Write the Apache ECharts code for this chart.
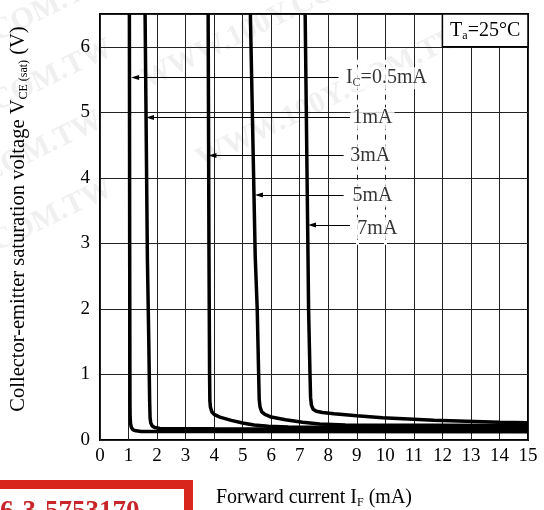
<!DOCTYPE html>
<html>
<head>
<meta charset="utf-8">
<script src="https://cdn.jsdelivr.net/npm/echarts@6/dist/echarts.min.js"></script>
<style>
html, body { margin: 0; padding: 0; background: #fff; }
#chart { width: 544px; height: 510px; }
</style>
</head>
<body>
<div id="chart"></div>
<script>
const FONT = '"Liberation Serif", "Times New Roman", serif';

// V_CE(sat) versus forward current I_F, one curve per collector current.
// Each point: [I_F (mA), V_CE(sat) (V)]
const curveIc05 = [[1.03, 6.5], [1.04, 3.0], [1.05, 0.6], [1.055, 0.36], [1.07, 0.25], [1.1, 0.19], [1.16, 0.155], [1.26, 0.14], [1.45, 0.13], [4, 0.13], [15, 0.125]];
const curveIc1 = [[1.58, 6.5], [1.66, 2.8], [1.71, 1.5], [1.74, 0.6], [1.755, 0.34], [1.78, 0.26], [1.83, 0.215], [1.92, 0.19], [2.1, 0.175], [4, 0.17], [15, 0.16]];
const curveIc3 = [[3.79, 6.5], [3.82, 2.8], [3.84, 1.0], [3.85, 0.6], [3.87, 0.5], [3.92, 0.43], [4.0, 0.39], [4.2, 0.35], [4.6, 0.3], [5.0, 0.26], [5.4, 0.23], [5.9, 0.21], [6.6, 0.2], [15, 0.19]];
const curveIc5 = [[5.27, 6.5], [5.44, 2.8], [5.51, 2.0], [5.56, 1.0], [5.58, 0.62], [5.61, 0.5], [5.67, 0.43], [5.78, 0.39], [6.0, 0.35], [6.5, 0.31], [7.1, 0.27], [7.7, 0.245], [8.6, 0.23], [15, 0.22]];
const curveIc7 = [[7.19, 6.5], [7.29, 2.8], [7.31, 2.0], [7.36, 1.0], [7.38, 0.65], [7.41, 0.53], [7.47, 0.47], [7.58, 0.44], [7.8, 0.42], [8.2, 0.4], [9.0, 0.37], [9.9, 0.34], [11.7, 0.3], [14.0, 0.27], [15, 0.265]];

// Curve captions and their leader arrows (axis units)
const captionText = ['I{sub|C}=0.5mA', '1mA', '3mA', '5mA', '7mA'];
const captionIF = [8.55, 8.78, 8.7, 8.78, 8.95];
const captionV = [5.52, 4.91, 4.33, 3.72, 3.23];
const arrowTipIF = [1.23, 1.75, 3.94, 5.57, 7.43];
const arrowTailIF = [8.36, 8.76, 8.54, 8.54, 8.76];
const arrowV = [5.53, 4.92, 4.34, 3.74, 3.28];

// Ambient temperature box (axis units)
const tempBoxIF = [12, 15];
const tempBoxV = [6, 6.5];
const tempText = 'T{sub|a}=25°C';

// Dashed guide columns behind the captions
const guideIF = [9, 10];
const guideV = [2.98, 5.85];

// Faint site stamp text repeated across the upper half
const stampText = 'WWW.100Y.COM.TW';
const stampAnchors = [[-150, 120], [-150, 190], [-160, 262], [-150, 330], [150, 95], [205, 175]];

const subRich = { sub: { fontFamily: FONT, fontSize: 12, verticalAlign: 'bottom', color: '#000' } };

const curves = [curveIc05, curveIc1, curveIc3, curveIc5, curveIc7];

const series = curves.map(c => ({
  type: 'line',
  data: c,
  showSymbol: false,
  symbol: 'none',
  smooth: false,
  clip: true,
  lineStyle: { color: '#000', width: 3.5 },
  z: 3
}));

series.push({
  type: 'line',
  data: [],
  z: 2,
  markLine: {
    silent: true,
    symbol: ['none', 'none'],
    label: { show: false },
    lineStyle: { color: '#fff', width: 3, type: [5, 5] },
    data: guideIF.map(x => [{ coord: [x, guideV[0]] }, { coord: [x, guideV[1]] }])
  },
  markArea: {
    silent: true,
    itemStyle: { color: '#fff', borderColor: '#000', borderWidth: 1.5 },
    label: {
      show: true,
      position: 'inside',
      formatter: tempText,
      fontFamily: FONT,
      fontSize: 20,
      lineHeight: 22,
      color: '#000',
      rich: subRich
    },
    data: [[{ coord: [tempBoxIF[0], tempBoxV[0]] }, { coord: [tempBoxIF[1], tempBoxV[1]] }]]
  }
});

series.push({
  type: 'scatter',
  data: captionText.map((t, i) => [captionIF[i], captionV[i], t]),
  symbolSize: 0,
  z: 6,
  label: {
    show: true,
    position: 'right',
    distance: 0,
    formatter: p => p.data[2],
    fontFamily: FONT,
    fontSize: 20,
    lineHeight: 22,
    color: '#000',
    backgroundColor: '#fff',
    padding: [0, 2, 0, 2],
    rich: subRich
  },
  markLine: {
    silent: true,
    symbol: ['none', 'none'],
    label: { show: false },
    lineStyle: { color: '#000', width: 1, type: 'solid' },
    data: arrowTipIF.map((tip, i) => [
      { coord: [tip, arrowV[i]], symbol: 'triangle', symbolSize: [5, 8] },
      { coord: [arrowTailIF[i], arrowV[i]], symbol: 'none' }
    ])
  }
});

const stampGraphics = stampAnchors.map(([x, y]) => ({
  type: 'text', silent: true, z: -10,
  x: x, y: y, rotation: 0.45,
  style: { text: stampText, fill: '#f0f0f0', font: 'bold 30px "Liberation Serif", serif',
    align: 'left', verticalAlign: 'bottom' }
}));

const chart = echarts.init(document.getElementById('chart'), null, { renderer: 'canvas' });
chart.setOption({
  animation: false,
  backgroundColor: '#fff',
  grid: {
    left: 100, right: 16, top: 14, bottom: 70,
    outerBoundsMode: 'none', containLabel: false,
    show: true, borderColor: '#000', borderWidth: 2, backgroundColor: 'transparent'
  },
  xAxis: {
    type: 'value', min: 0, max: 15, interval: 1,
    axisLine: { show: false }, axisTick: { show: false },
    axisLabel: { color: '#000', fontFamily: FONT, fontSize: 19, margin: 7 },
    splitLine: { show: true, lineStyle: { color: '#222', width: 1 } },
    name: 'Forward current I{sub|F} (mA)',
    nameLocation: 'middle', nameGap: 47,
    nameTextStyle: { color: '#000', fontFamily: FONT, fontSize: 20, lineHeight: 22, rich: subRich }
  },
  yAxis: {
    type: 'value', min: 0, max: 6.5, interval: 1,
    axisLine: { show: false }, axisTick: { show: false },
    axisLabel: { color: '#000', fontFamily: FONT, fontSize: 19, margin: 10,
      formatter: v => (Number.isInteger(v) ? String(v) : '') },
    splitLine: { show: true, lineStyle: { color: '#222', width: 1 } },
    name: 'Collector-emitter saturation voltage V{sub|CE (sat)} (V)',
    nameLocation: 'middle', nameGap: 70, nameRotate: 90,
    nameTextStyle: { color: '#000', fontFamily: FONT, fontSize: 20.5, lineHeight: 22,
      padding: [0, 0, 0, 16], rich: subRich }
  },
  graphic: stampGraphics.concat([
    {
      type: 'rect', silent: true,
      shape: { x: -20, y: 484.5, width: 208.5, height: 50 },
      style: { fill: '#fff', stroke: '#d9261c', lineWidth: 9 }
    },
    {
      type: 'text', silent: true,
      style: { x: -27, y: 499, text: '886-3-5753170', align: 'left', verticalAlign: 'top',
        fill: '#c8262a', font: 'bold 27px "Liberation Serif", serif' }
    }
  ]),
  series: series
});
</script>
</body>
</html>
